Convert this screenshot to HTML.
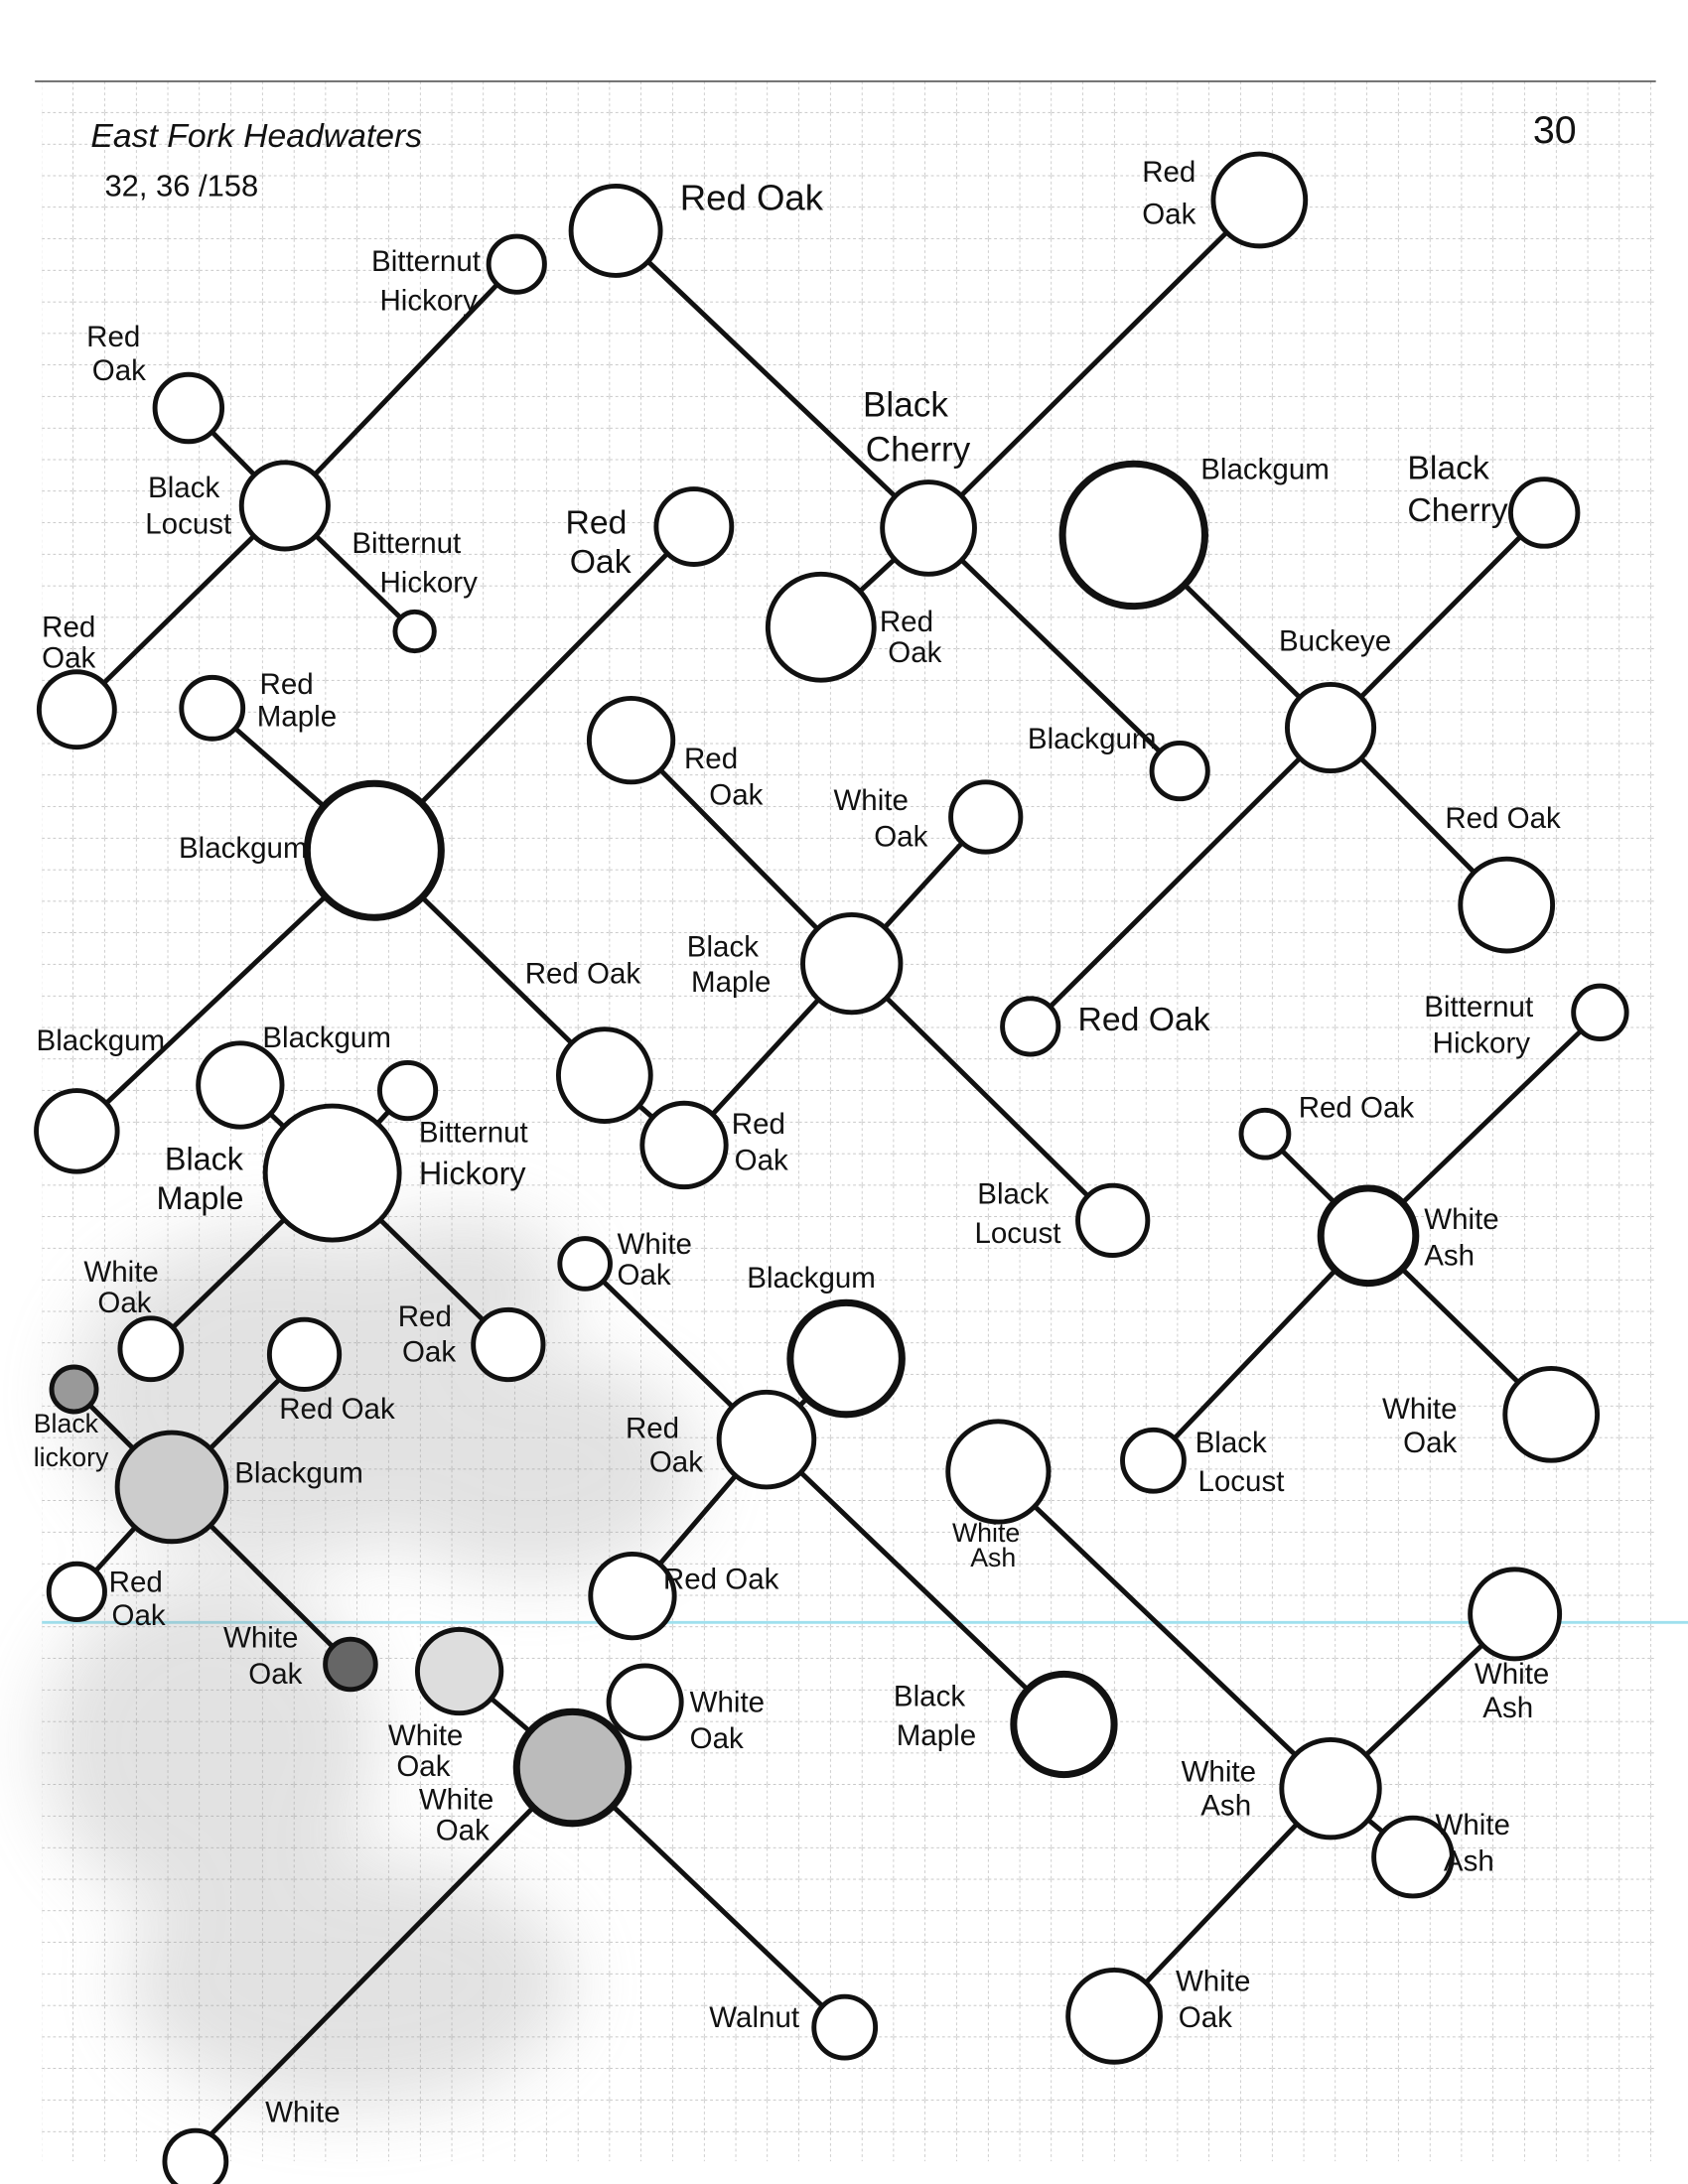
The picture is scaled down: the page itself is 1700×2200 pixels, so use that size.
<!DOCTYPE html>
<html><head><meta charset="utf-8"><style>
html,body{margin:0;padding:0;background:#fff;}
svg{display:block;}
text{font-family:"Liberation Sans Narrow","Liberation Sans",sans-serif;fill:#111;}
</style></head><body>
<svg width="1700" height="2200" viewBox="0 0 1209 1564" xmlns="http://www.w3.org/2000/svg">
<defs>
<pattern id="g" width="22.6" height="22.6" patternUnits="userSpaceOnUse" x="30" y="58">
<path d="M22.6 0V22.6M0 22.6H22.6" stroke="#a8a8a8" stroke-width="0.8" stroke-dasharray="2 2" fill="none"/>
</pattern>
<filter id="b"><feGaussianBlur stdDeviation="25"/></filter>
</defs>
<rect width="1209" height="1564" fill="#fff"/>
<rect x="30" y="58" width="1156" height="1490" fill="url(#g)"/>
<line x1="25" y1="58" x2="1186" y2="58" stroke="#555" stroke-width="1.2"/>
<line x1="30" y1="1162" x2="1209" y2="1162" stroke="#9fe0ee" stroke-width="2"/>
<g filter="url(#b)" fill="#999" opacity="0.28">
<ellipse cx="200" cy="1000" rx="150" ry="120"/>
<ellipse cx="380" cy="1050" rx="120" ry="80"/>
<ellipse cx="150" cy="1250" rx="120" ry="120"/>
<ellipse cx="330" cy="920" rx="80" ry="50"/>
<ellipse cx="250" cy="1420" rx="160" ry="90"/>
</g>
<g stroke="#111" stroke-width="3.5" fill="none" stroke-linecap="round">
<path d="M135 292L204 362L297 452"/>
<path d="M370 189L204 362L55 508"/>
<path d="M441 165L665 378L845 552"/>
<path d="M902 143L665 378L588 449"/>
<path d="M1106 367L953 521L738 735"/>
<path d="M812 383L953 521L1079 648"/>
<path d="M497 377L268 609L55 810"/>
<path d="M152 507L268 609L433 770L490 820"/>
<path d="M452 530L610 690L797 874"/>
<path d="M706 585L610 690L490 820"/>
<path d="M172 777L238 840L364 963"/>
<path d="M292 781L238 840L108 966"/>
<path d="M1146 725L980 885L826 1046"/>
<path d="M906 812L980 885L1111 1013"/>
<path d="M53 995L123 1065L251 1192"/>
<path d="M218 970L123 1065L55 1140"/>
<path d="M419 905L549 1031L762 1235"/>
<path d="M606 973L549 1031L453 1143"/>
<path d="M715 1054L953 1281L1012 1330"/>
<path d="M1085 1156L953 1281L798 1444"/>
<path d="M329 1197L410 1266L605 1452"/>
<path d="M462 1219L410 1266L140 1540"/>
</g>
<g stroke="#111" stroke-width="3.5" fill="#fff">
<circle cx="441" cy="165" r="32"/><circle cx="902" cy="143" r="33"/>
<circle cx="370" cy="189" r="20"/><circle cx="135" cy="292" r="24"/>
<circle cx="204" cy="362" r="31"/><circle cx="297" cy="452" r="14"/>
<circle cx="55" cy="508" r="27"/><circle cx="665" cy="378" r="33"/>
<circle cx="588" cy="449" r="38"/><circle cx="812" cy="383" r="51" stroke-width="5"/>
<circle cx="1106" cy="367" r="24"/><circle cx="953" cy="521" r="31"/>
<circle cx="845" cy="552" r="20"/><circle cx="1079" cy="648" r="33"/>
<circle cx="497" cy="377" r="27"/><circle cx="152" cy="507" r="22"/>
<circle cx="268" cy="609" r="48" stroke-width="5"/><circle cx="452" cy="530" r="30"/>
<circle cx="706" cy="585" r="25"/><circle cx="610" cy="690" r="35"/>
<circle cx="738" cy="735" r="20"/><circle cx="433" cy="770" r="33"/>
<circle cx="490" cy="820" r="30"/><circle cx="55" cy="810" r="29"/>
<circle cx="172" cy="777" r="30"/><circle cx="292" cy="781" r="20"/>
<circle cx="238" cy="840" r="48"/><circle cx="797" cy="874" r="25"/>
<circle cx="1146" cy="725" r="19"/><circle cx="906" cy="812" r="17"/>
<circle cx="980" cy="885" r="34" stroke-width="5"/><circle cx="108" cy="966" r="22"/>
<circle cx="364" cy="963" r="25"/><circle cx="218" cy="970" r="25"/>
<circle cx="53" cy="995" r="16" fill="#999"/><circle cx="123" cy="1065" r="39" fill="#ccc"/>
<circle cx="419" cy="905" r="18"/><circle cx="606" cy="973" r="40" stroke-width="5"/>
<circle cx="549" cy="1031" r="34"/><circle cx="715" cy="1054" r="36"/>
<circle cx="826" cy="1046" r="22"/><circle cx="1111" cy="1013" r="33"/>
<circle cx="453" cy="1143" r="30"/><circle cx="55" cy="1140" r="20"/>
<circle cx="251" cy="1192" r="18" fill="#666"/><circle cx="329" cy="1197" r="30" fill="#ddd"/>
<circle cx="462" cy="1219" r="26"/><circle cx="410" cy="1266" r="40" fill="#bbb" stroke-width="5"/>
<circle cx="762" cy="1235" r="36" stroke-width="5"/><circle cx="1085" cy="1156" r="32"/>
<circle cx="953" cy="1281" r="35"/><circle cx="1012" cy="1330" r="28"/>
<circle cx="798" cy="1444" r="33"/><circle cx="605" cy="1452" r="22"/>
<circle cx="140" cy="1548" r="22"/>
</g>
<g font-size="21">
<text x="65" y="105" font-size="24" font-style="italic">East Fork Headwaters</text>
<text x="75" y="140" font-size="22">32, 36 /158</text>
<text x="1098" y="102" font-size="28">30</text>
<text x="487" y="150" font-size="26">Red Oak</text>
<text x="818" y="130">Red</text><text x="818" y="160">Oak</text>
<text x="266" y="194">Bitternut</text><text x="272" y="222">Hickory</text>
<text x="62" y="248">Red</text><text x="66" y="272">Oak</text>
<text x="106" y="356">Black</text><text x="104" y="382">Locust</text>
<text x="252" y="396">Bitternut</text><text x="272" y="424">Hickory</text>
<text x="30" y="456">Red</text><text x="30" y="478">Oak</text>
<text x="618" y="298" font-size="25">Black</text><text x="620" y="330" font-size="25">Cherry</text>
<text x="630" y="452">Red</text><text x="636" y="474">Oak</text>
<text x="860" y="343">Blackgum</text>
<text x="1008" y="343" font-size="24">Black</text><text x="1008" y="373" font-size="24">Cherry</text>
<text x="405" y="382" font-size="24">Red</text><text x="408" y="410" font-size="24">Oak</text>
<text x="916" y="466">Buckeye</text>
<text x="736" y="536">Blackgum</text>
<text x="1035" y="593">Red Oak</text>
<text x="186" y="497">Red</text><text x="184" y="520">Maple</text>
<text x="490" y="550">Red</text><text x="508" y="576">Oak</text>
<text x="597" y="580">White</text><text x="626" y="606">Oak</text>
<text x="128" y="614">Blackgum</text>
<text x="492" y="685">Black</text><text x="495" y="710">Maple</text>
<text x="376" y="704">Red Oak</text>
<text x="772" y="738" font-size="24">Red Oak</text>
<text x="1020" y="728">Bitternut</text><text x="1026" y="754">Hickory</text>
<text x="26" y="752">Blackgum</text><text x="188" y="750">Blackgum</text>
<text x="300" y="818">Bitternut</text><text x="300" y="848" font-size="23">Hickory</text>
<text x="118" y="838" font-size="23">Black</text><text x="112" y="866" font-size="23">Maple</text>
<text x="524" y="812">Red</text><text x="526" y="838">Oak</text>
<text x="930" y="800">Red Oak</text>
<text x="700" y="862">Black</text><text x="698" y="890">Locust</text>
<text x="1020" y="880">White</text><text x="1020" y="906">Ash</text>
<text x="60" y="918">White</text><text x="70" y="940">Oak</text>
<text x="285" y="950">Red</text><text x="288" y="975">Oak</text>
<text x="442" y="898">White</text><text x="442" y="920">Oak</text>
<text x="535" y="922">Blackgum</text>
<text x="200" y="1016">Red Oak</text>
<text x="24" y="1026" font-size="19">Black</text><text x="24" y="1050" font-size="19">lickory</text>
<text x="168" y="1062">Blackgum</text>
<text x="448" y="1030">Red</text><text x="465" y="1054">Oak</text>
<text x="990" y="1016">White</text><text x="1005" y="1040">Oak</text>
<text x="856" y="1040">Black</text><text x="858" y="1068">Locust</text>
<text x="682" y="1104" font-size="19">White</text><text x="695" y="1122" font-size="19">Ash</text>
<text x="475" y="1138">Red Oak</text>
<text x="78" y="1140">Red</text><text x="80" y="1164">Oak</text>
<text x="160" y="1180">White</text><text x="178" y="1206">Oak</text>
<text x="494" y="1226">White</text><text x="494" y="1252">Oak</text>
<text x="640" y="1222">Black</text><text x="642" y="1250">Maple</text>
<text x="1056" y="1206">White</text><text x="1062" y="1230">Ash</text>
<text x="278" y="1250">White</text><text x="284" y="1272">Oak</text>
<text x="300" y="1296">White</text><text x="312" y="1318">Oak</text>
<text x="846" y="1276">White</text><text x="860" y="1300">Ash</text>
<text x="1028" y="1314">White</text><text x="1034" y="1340">Ash</text>
<text x="842" y="1426">White</text><text x="844" y="1452">Oak</text>
<text x="508" y="1452">Walnut</text>
<text x="190" y="1520">White</text>
</g>
</svg>
</body></html>
